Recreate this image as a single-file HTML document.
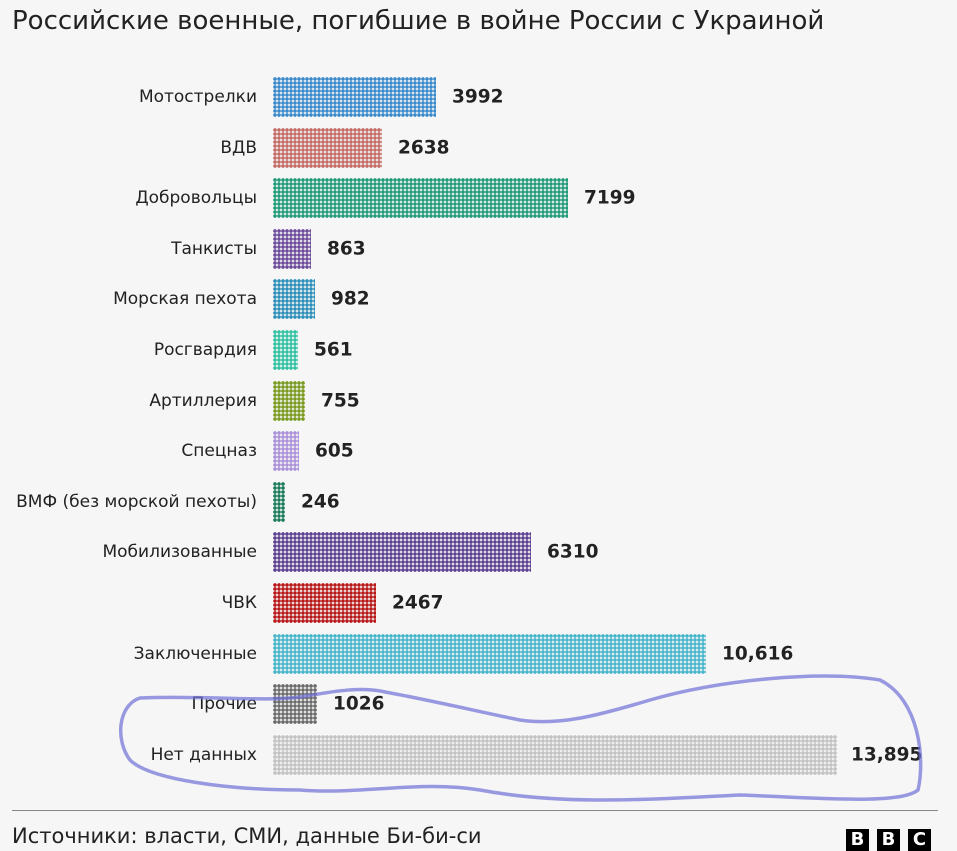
<!DOCTYPE html>
<html><head><meta charset="utf-8"><style>
body{margin:0;width:957px;height:851px;background:#f6f6f6;position:relative;overflow:hidden;font-family:"DejaVu Sans","Liberation Sans",sans-serif;color:#222}
.t{position:absolute;left:12px;top:6px;font-size:26px;color:#222}
.l{position:absolute;right:700px;font-size:17px;text-align:right;white-space:nowrap;transform:translateY(-50%)}
.b{position:absolute;left:273px;height:40px;transform:translateY(-50%);background-size:4px 4px}
.v{position:absolute;font-size:18.5px;font-weight:bold;transform:translateY(-50%)}
.f{position:absolute;left:12px;top:824px;font-size:21px}
.hr{position:absolute;left:12px;width:926px;top:810px;height:1px;background:#888}
.bbc{position:absolute;top:829px;width:23px;height:22px;background:#000;color:#fff;font-weight:bold;font-size:18px;text-align:center;line-height:22px}
</style></head><body>
<div class="t">Российские военные, погибшие в войне России с Украиной</div>
<div id="c"></div>
<div class="hr"></div>
<div class="f">Источники: власти, СМИ, данные Би-би-си</div>
<div class="bbc" style="left:846px">B</div><div class="bbc" style="left:877px">B</div><div class="bbc" style="left:908px">C</div>
<svg style="position:absolute;left:0;top:0" width="957" height="851"><path d="M140 698 C 200 695 260 702 300 697 C 330 692 360 686 385 692 C 430 700 480 712 520 720 C 560 726 600 715 650 700 C 720 680 820 670 880 680 C 920 700 925 760 918 790 C 900 805 820 798 740 795 C 640 800 560 805 480 790 C 420 780 360 795 300 790 C 230 790 150 780 130 760 C 115 740 118 705 140 698 Z" fill="none" stroke="#7070d8" stroke-width="3.5" opacity="0.7"/></svg>
<script>
var d=[["Мотострелки",436,"3992","#3a8acb"],["ВДВ",382,"2638","#c46a64"],["Добровольцы",568,"7199","#1e9a78"],["Танкисты",311,"863","#6b4a9a"],["Морская пехота",315,"982","#2b8fb8"],["Росгвардия",298,"561","#2ec0a0"],["Артиллерия",305,"755","#7a9a20"],["Спецназ",299,"605","#a990d8"],["ВМФ (без морской пехоты)",285,"246","#1a7a5a"],["Мобилизованные",531,"6310","#5c3f8e"],["ЧВК",376,"2467","#b81818"],["Заключенные",706,"10,616","#44b4c8"],["Прочие",317,"1026","#6a6a6a"],["Нет данных",837,"13,895","#c2c2c2"]];
var h="";d.forEach(function(r,i){var y=97+i*50.6;
h+='<div class="l" style="top:'+y+'px">'+r[0]+'</div>';
h+='<div class="b" style="top:'+y+'px;width:'+(r[1]-273)+'px;background-image:radial-gradient(circle,'+r[3]+' 55%,transparent 75%)"></div>';
h+='<div class="v" style="top:'+y+'px;left:'+(r[1]+(i==13?14:16))+'px">'+r[2]+'</div>';});
document.getElementById("c").innerHTML=h;
</script>
</body></html>
